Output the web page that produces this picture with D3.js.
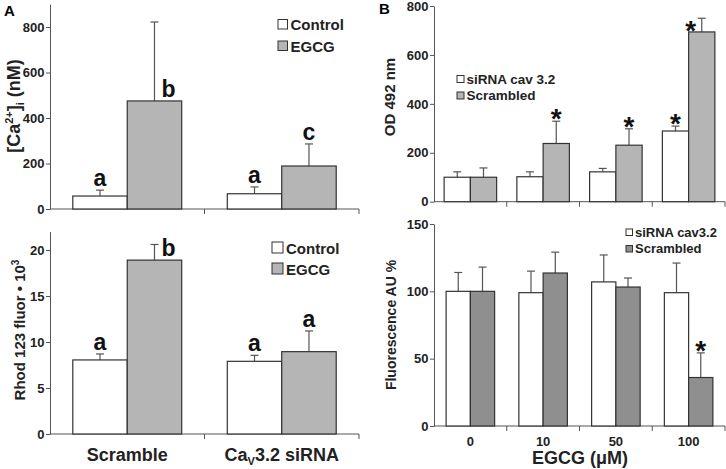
<!DOCTYPE html>
<html>
<head>
<meta charset="utf-8">
<script src="https://cdn.jsdelivr.net/npm/d3@7"></script>
<style>
  body { margin: 0; background: #fff; }
  svg { font-family: "Liberation Sans", Arial, sans-serif; }
  .axis path, .axis line { stroke: #555; }
  .axis text { font-size: 13px; font-weight: bold; fill: #222; }
</style>
</head>
<body>
<script>
// Width and height
var w = 726;
var h = 469;

// Panel A, top: [Ca2+]i
const groupsA = ["Scramble", "CaV3.2 siRNA"];
const caControl = [57, 67];
const caControlSd = [26, 30];
const caEgcg = [475, 189];
const caEgcgSd = [347, 97];
const caLetters = [["a", "b"], ["a", "c"]];

// Panel A, bottom: Rhod 123
const rhodControl = [8.05, 7.9];
const rhodControlSd = [0.65, 0.65];
const rhodEgcg = [18.9, 8.95];
const rhodEgcgSd = [1.7, 2.25];
const rhodLetters = [["a", "b"], ["a", "a"]];

// Panel B, top: OD 492 nm
const doses = ["0", "10", "50", "100"];
const odSirna = [100, 102, 122, 289];
const odSirnaSd = [22, 20, 14, 20];
const odScr = [100, 238, 231, 694];
const odScrSd = [38, 91, 67, 56];
const odStars = [[false, false], [false, true], [false, true], [true, true]];

// Panel B, bottom: Fluorescence AU %
const fluoSirna = [100, 99, 107, 99];
const fluoSirnaSd = [14, 16, 20, 22];
const fluoScr = [100, 113.6, 103.2, 36];
const fluoScrSd = [18, 15.5, 6.7, 18.3];
const fluoStars = [[false, false], [false, false], [false, false], [false, true]];

const svg = d3.select("body")
  .append("svg")
    .attr("width", w)
    .attr("height", h);

// draws one bar panel, returns the scales
function drawPanel(p) {
  const g = svg.append("g");

  const x0 = d3.scaleBand()
    .domain(p.groups)
    .range(p.xRange)
    .paddingInner(p.pad)
    .paddingOuter(p.pad / 2);

  const x1 = d3.scaleBand()
    .domain([0, 1])
    .range([0, x0.bandwidth()]);

  const y = d3.scaleLinear()
    .domain(p.yDomain)
    .range(p.yRange);

  // y axis
  g.append("g")
    .attr("class", "axis")
    .attr("transform", `translate(${p.xRange[0]},0)`)
    .call(d3.axisLeft(y).tickValues(p.ticks).tickSize(4).tickSizeOuter(0).tickPadding(1.5));

  // x axis line and group boundary ticks
  const y0 = y(0);
  g.append("line")
    .attr("x1", p.xRange[0]).attr("x2", p.xRange[1])
    .attr("y1", y0).attr("y2", y0)
    .attr("stroke", "#555");
  const step = x0.step();
  g.selectAll(".bt")
    .data(p.groups)
    .enter()
    .append("line")
      .attr("x1", d => x0(d) + x0.bandwidth() + step * p.pad / 2)
      .attr("x2", d => x0(d) + x0.bandwidth() + step * p.pad / 2)
      .attr("y1", y0).attr("y2", y0 + 5)
      .attr("stroke", "#555");

  // bars
  const rows = [];
  p.groups.forEach((grp, i) => {
    for (let s = 0; s < 2; s++) {
      rows.push({ grp: grp, i: i, s: s, v: p.values[s][i], sd: p.sds[s][i] });
    }
  });

  // error bars (upper half only)
  const capW = 4;
  rows.forEach(d => {
    const cx = x0(d.grp) + x1(d.s) + x1.bandwidth() / 2;
    const yt = y(d.v + d.sd);
    g.append("line")
      .attr("x1", cx).attr("x2", cx)
      .attr("y1", y(d.v)).attr("y2", yt)
      .attr("stroke", "#555").attr("stroke-width", 1.2);
    g.append("line")
      .attr("x1", cx - capW).attr("x2", cx + capW)
      .attr("y1", yt).attr("y2", yt)
      .attr("stroke", "#555").attr("stroke-width", 1.2);
    d.cx = cx;
    d.yt = yt;
  });

  g.selectAll(".bar")
    .data(rows)
    .enter()
    .append("rect")
      .attr("x", d => x0(d.grp) + x1(d.s))
      .attr("y", d => y(d.v))
      .attr("width", x1.bandwidth())
      .attr("height", d => y0 - y(d.v))
      .attr("fill", d => p.colors[d.s])
      .attr("stroke", "#333")
      .attr("stroke-width", 1.2);

  // significance letters
  if (p.letters) {
    const maxV = d3.max(rows, d => d.v);
    rows.forEach(d => {
      const beside = d.v === maxV;
      g.append("text")
        .attr("x", beside ? d.cx + 14 : d.cx)
        .attr("y", beside ? y(d.v) - 4 : d.yt - 4)
        .attr("text-anchor", "middle")
        .style("font-size", "23px")
        .style("font-weight", "bold")
        .attr("fill", "#111")
        .text(p.letters[d.i][d.s]);
    });
  }

  // asterisks
  if (p.stars) {
    const fs = 28;
    rows.filter(d => p.stars[d.i][d.s]).forEach(d => {
      let cy = d.yt - 9;
      let cx = d.cx;
      if (cy - 6 < p.yRange[1]) {
        // not enough room above: put it beside the error bar
        cy = y(d.v) - 8;
        cx = d.cx - 11;
      }
      g.append("text")
        .attr("x", cx)
        .attr("y", cy + fs * 0.57)
        .attr("text-anchor", "middle")
        .style("font-size", fs + "px")
        .style("font-weight", "bold")
        .attr("fill", "#111")
        .text("*");
    });
  }

  // legend
  const lg = g.append("g").attr("transform", `translate(${p.legend.x},${p.legend.y})`);
  p.legend.labels.forEach((lab, s) => {
    lg.append("rect")
      .attr("x", 0)
      .attr("y", s * p.legend.gap - p.legend.box)
      .attr("width", p.legend.box)
      .attr("height", p.legend.box)
      .attr("fill", p.colors[s])
      .attr("stroke", "#333");
    lg.append("text")
      .attr("x", p.legend.box + p.legend.tx)
      .attr("y", s * p.legend.gap + 1)
      .style("font-size", p.legend.fs + "px")
      .style("font-weight", "bold")
      .attr("fill", "#222")
      .text(lab);
  });

  return { g: g, x0: x0, y: y };
}

const lightGray = "#b5b5b5";
const darkGray = "#8f8f8f";

// A top
const aTop = drawPanel({
  groups: groupsA, xRange: [50, 359], pad: 0.295,
  yDomain: [0, 900], yRange: [209, 4.25], ticks: [0, 200, 400, 600, 800],
  values: [caControl, caEgcg], sds: [caControlSd, caEgcgSd],
  colors: ["#fff", lightGray], letters: caLetters,
  legend: { x: 278, y: 29, box: 9.5, gap: 21.5, tx: 3, fs: 15, labels: ["Control", "EGCG"] }
});

// A bottom
const aBot = drawPanel({
  groups: groupsA, xRange: [50, 359], pad: 0.295,
  yDomain: [0, 22], yRange: [434, 231.6], ticks: [0, 5, 10, 15, 20],
  values: [rhodControl, rhodEgcg], sds: [rhodControlSd, rhodEgcgSd],
  colors: ["#fff", lightGray], letters: rhodLetters,
  legend: { x: 272, y: 253, box: 11, gap: 21, tx: 3, fs: 15, labels: ["Control", "EGCG"] }
});

// B top
const bTop = drawPanel({
  groups: doses, xRange: [434, 725], pad: 0.278,
  yDomain: [0, 800], yRange: [201.7, 6], ticks: [0, 200, 400, 600, 800],
  values: [odSirna, odScr], sds: [odSirnaSd, odScrSd],
  colors: ["#fff", lightGray], stars: odStars,
  legend: { x: 457, y: 82.5, box: 7, gap: 16.5, tx: 2.5, fs: 13.5, labels: ["siRNA cav 3.2", "Scrambled"] }
});

// B bottom
const bBot = drawPanel({
  groups: doses, xRange: [434, 725], pad: 0.333,
  yDomain: [0, 150], yRange: [426, 224], ticks: [0, 50, 100, 150],
  values: [fluoSirna, fluoScr], sds: [fluoSirnaSd, fluoScrSd],
  colors: ["#fff", darkGray], stars: fluoStars,
  legend: { x: 626, y: 235.5, box: 6.5, gap: 16.5, tx: 2.5, fs: 13, labels: ["siRNA cav3.2", "Scrambled"] }
});

// x category labels, A bottom
aBot.g.selectAll(".xl")
  .data(groupsA)
  .enter()
  .append("text")
    .attr("x", d => aBot.x0(d) + aBot.x0.bandwidth() / 2)
    .attr("y", 461)
    .attr("text-anchor", "middle")
    .style("font-size", "18px")
    .style("font-weight", "bold")
    .attr("fill", "#222")
    .each(function(d) {
      const t = d3.select(this);
      if (d.indexOf("CaV") === 0) {
        t.append("tspan").text("Ca");
        t.append("tspan").attr("dy", 4).style("font-size", "11px").text("V");
        t.append("tspan").attr("dy", -4).text(d.slice(3));
      } else {
        t.text(d);
      }
    });

// dose labels, B bottom
bBot.g.selectAll(".xl")
  .data(doses)
  .enter()
  .append("text")
    .attr("x", d => bBot.x0(d) + bBot.x0.bandwidth() / 2)
    .attr("y", 446)
    .attr("text-anchor", "middle")
    .style("font-size", "13px")
    .style("font-weight", "bold")
    .attr("fill", "#222")
    .text(d => d);

svg.append("text")
  .attr("x", 580).attr("y", 464)
  .attr("text-anchor", "middle")
  .style("font-size", "18px")
  .style("font-weight", "bold")
  .attr("fill", "#222")
  .text("EGCG (\u03bcM)");

// y titles
function yTitle(x, y, build) {
  const t = svg.append("text")
    .attr("transform", `translate(${x},${y}) rotate(-90)`)
    .attr("text-anchor", "middle")
    .attr("fill", "#222");
  build(t);
}

yTitle(20, 106, t => {
  t.style("font-size", "18px").style("font-weight", "bold");
  t.append("tspan").text("[Ca");
  t.append("tspan").attr("dy", -7).style("font-size", "11px").text("2+");
  t.append("tspan").attr("dy", 7).text("]");
  t.append("tspan").attr("dy", 4).style("font-size", "11px").text("i");
  t.append("tspan").attr("dy", -4).text(" (nM)");
});

yTitle(25, 330, t => {
  t.style("font-size", "15px").style("font-weight", "bold");
  t.append("tspan").text("Rhod 123 fluor \u2022 10");
  t.append("tspan").attr("dy", -6).style("font-size", "10px").text("3");
});

yTitle(395, 97, t => {
  t.style("font-size", "15px").style("font-weight", "bold").text("OD 492 nm");
});

yTitle(396, 325, t => {
  t.style("font-size", "14px").style("font-weight", "bold").text("Fluorescence AU %");
});

// panel letters
svg.append("text")
  .attr("x", 4).attr("y", 16)
  .style("font-size", "15px").style("font-weight", "bold")
  .text("A");

svg.append("text")
  .attr("x", 379).attr("y", 14)
  .style("font-size", "15px").style("font-weight", "bold")
  .text("B");
</script>
</body>
</html>
